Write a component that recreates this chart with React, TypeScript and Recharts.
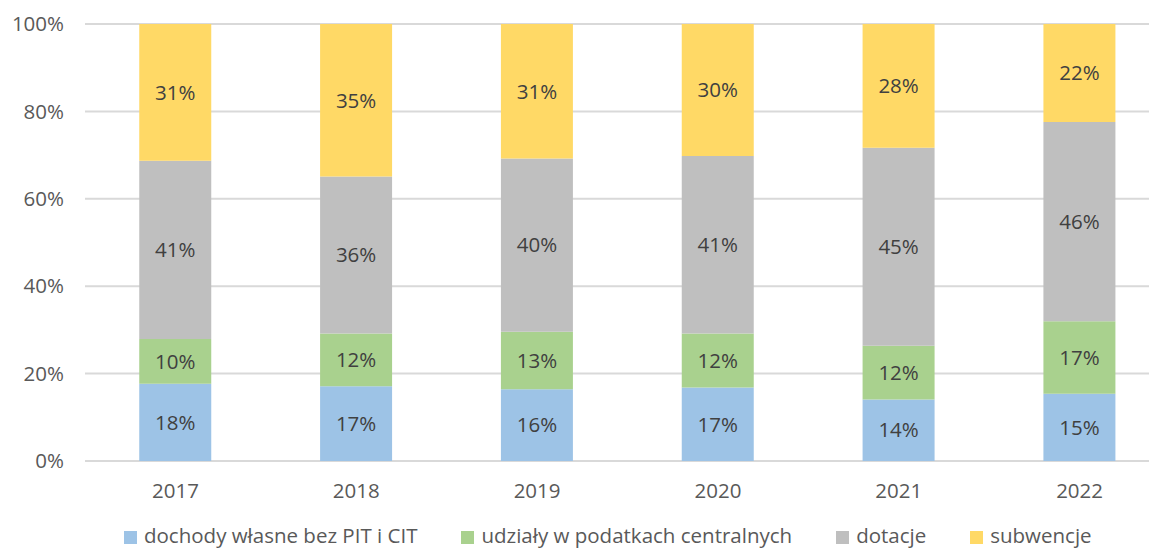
import React from "react";
import { BarChart, Bar, XAxis, YAxis, CartesianGrid, Legend, LabelList } from "recharts";

const years = ["2017", "2018", "2019", "2020", "2021", "2022"];
const dochodyWlasne = [17.7, 17.1, 16.4, 16.8, 14.1, 15.4];
const udzialy = [10.2, 12.1, 13.2, 12.4, 12.3, 16.6];
const dotacje = [40.8, 35.9, 39.6, 40.6, 45.3, 45.6];
const subwencje = [31.3, 34.9, 30.8, 30.2, 28.3, 22.4];
const yTicks = [0, 20, 40, 60, 80, 100];

const seriesKeys = ["a", "b", "c", "d"];
const seriesNames = {
  a: "dochody własne bez PIT i CIT",
  b: "udziały w podatkach centralnych",
  c: "dotacje",
  d: "subwencje",
};

const data = years.map((y, i) => ({
  year: y,
  a: dochodyWlasne[i],
  b: udzialy[i],
  c: dotacje[i],
  d: subwencje[i],
}));

const FONT = "'Open Sans', sans-serif";
const pct = (v: any) => `${Math.round(Number(v))}%`;

const LegendContent = (props: any) => {
  const payload = [...(props.payload || [])].sort(
    (p: any, q: any) => seriesKeys.indexOf(p.dataKey) - seriesKeys.indexOf(q.dataKey)
  );
  return (
    <div
      style={{
        display: "flex",
        alignItems: "center",
        paddingLeft: 116,
        height: 24,
        fontFamily: FONT,
        fontSize: 20.5,
        color: "#595959",
        lineHeight: "24px",
        whiteSpace: "nowrap",
      }}
    >
      {payload.map((p: any, i: number) => (
        <div key={i} style={{ display: "flex", alignItems: "center", marginRight: 44 }}>
          <span
            style={{
              display: "inline-block",
              width: 13,
              height: 13,
              background: p.color,
              marginRight: 7,
              marginTop: 4,
            }}
          />
          <span>{p.value}</span>
        </div>
      ))}
    </div>
  );
};

export default function App() {
  const labelStyle = { fontFamily: FONT, fontSize: 20.5, fill: "#404040" };
  return (
    <div style={{ width: 1149, height: 542, overflow: "hidden" }}>
      <BarChart
        width={1162}
        height={542}
        data={data}
        margin={{ top: 16, right: 0, bottom: 0, left: 0 }}
        barCategoryGap="30%"
      >
        <CartesianGrid horizontal vertical={false} stroke="#D9D9D9" strokeWidth={2} />
        <XAxis
          dataKey="year"
          axisLine={false}
          tickLine={false}
          height={65}
          tickMargin={16}
          tick={{ fontFamily: FONT, fontSize: 20.5, fill: "#595959" }}
        />
        <YAxis
          width={77}
          domain={[0, 100]}
          ticks={yTicks}
          axisLine={false}
          tickLine={false}
          tickMargin={15}
          tickFormatter={(v: number) => `${v}%`}
          tick={{ fontFamily: FONT, fontSize: 20.5, fill: "#595959" }}
        />
        <Legend verticalAlign="bottom" content={<LegendContent />} wrapperStyle={{ bottom: 3 }} />
        <Bar dataKey="a" name={seriesNames.a} stackId="s" fill="#9DC3E6" isAnimationActive={false}>
          <LabelList dataKey="a" position="center" formatter={pct} style={labelStyle} />
        </Bar>
        <Bar dataKey="b" name={seriesNames.b} stackId="s" fill="#A9D18E" isAnimationActive={false}>
          <LabelList dataKey="b" position="center" formatter={pct} style={labelStyle} />
        </Bar>
        <Bar dataKey="c" name={seriesNames.c} stackId="s" fill="#BFBFBF" isAnimationActive={false}>
          <LabelList dataKey="c" position="center" formatter={pct} style={labelStyle} />
        </Bar>
        <Bar dataKey="d" name={seriesNames.d} stackId="s" fill="#FFD966" isAnimationActive={false}>
          <LabelList dataKey="d" position="center" formatter={pct} style={labelStyle} />
        </Bar>
      </BarChart>
    </div>
  );
}
